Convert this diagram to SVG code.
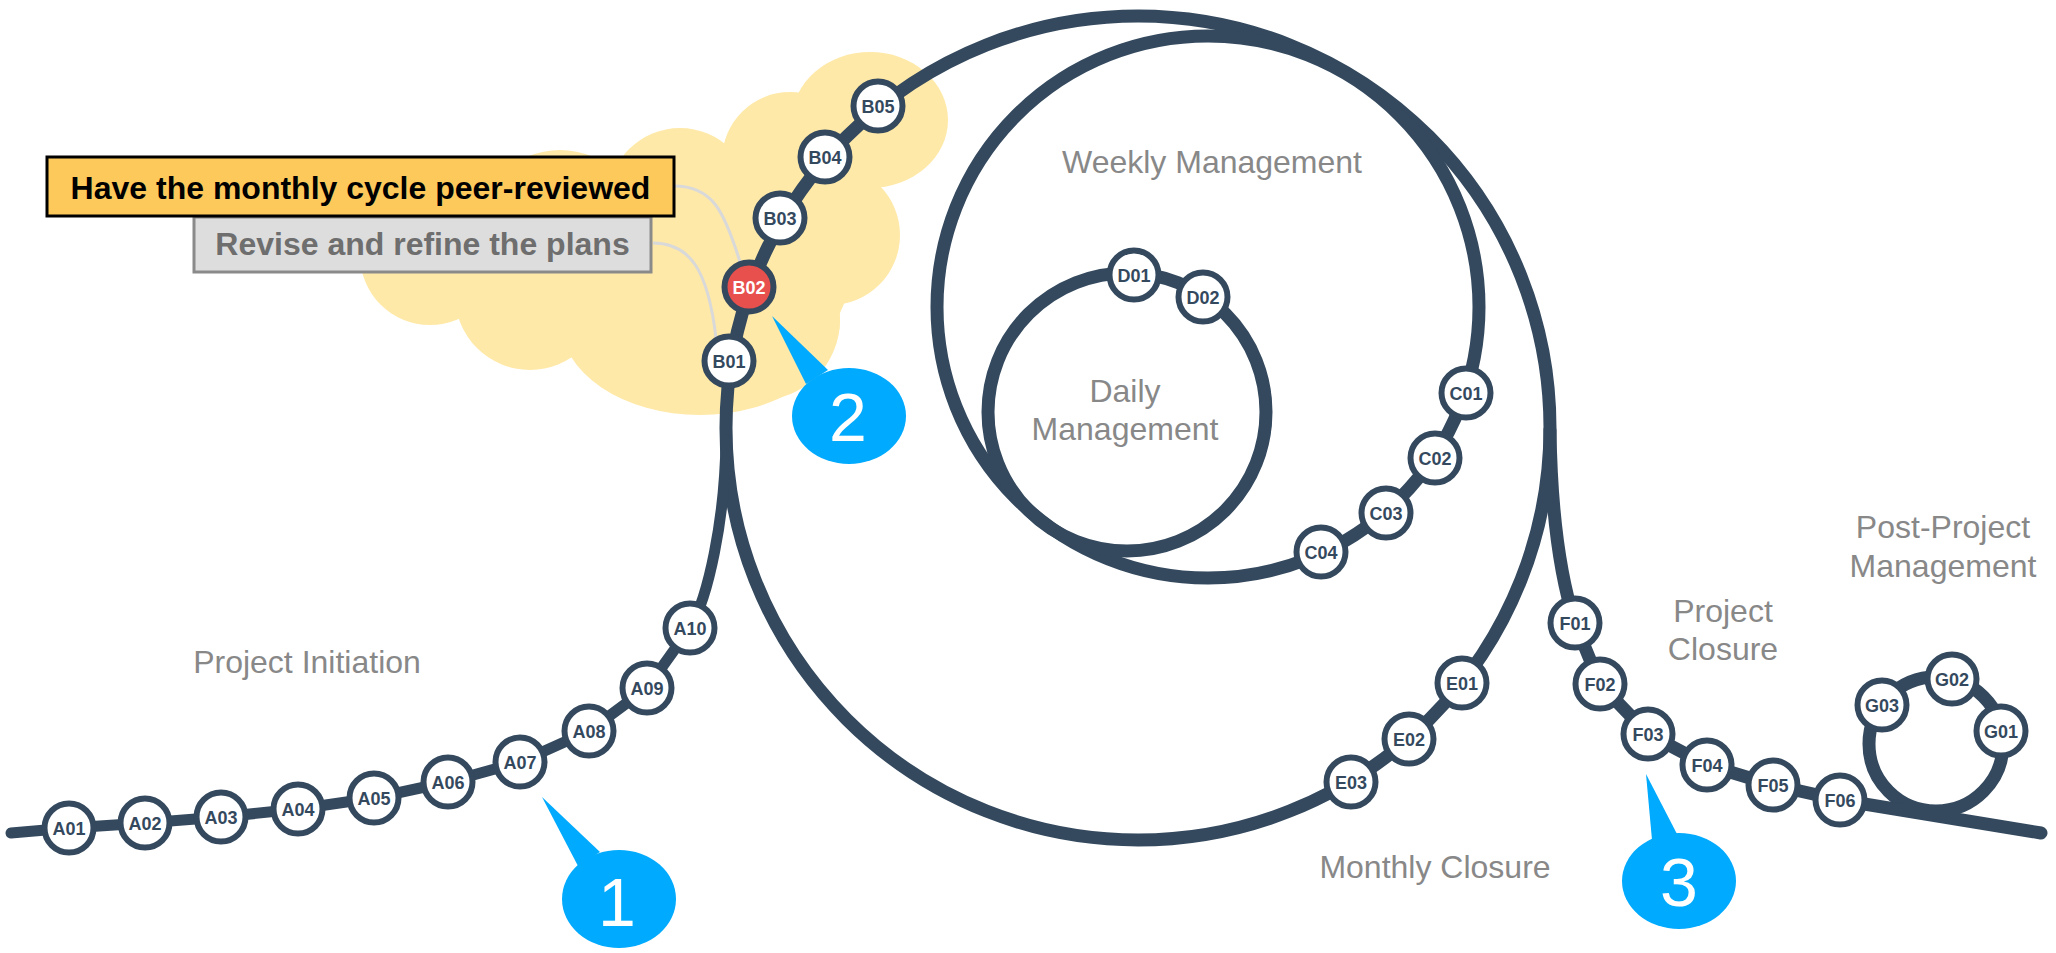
<svg xmlns="http://www.w3.org/2000/svg" width="2056" height="953" viewBox="0 0 2056 953">
<style>
.track{fill:none;stroke:#34495E;stroke-width:13;stroke-linecap:round;stroke-linejoin:round}
.thin{stroke-width:11}
.node circle{fill:#fff;stroke:#34495E;stroke-width:6}
.node text{font-family:"Liberation Sans",Arial,sans-serif;font-weight:bold;font-size:18px;fill:#34495E;text-anchor:middle}
.node.hot circle{fill:#E8504D}
.node.hot text{fill:#fff}
.lbl{font-family:"Liberation Sans",Arial,sans-serif;font-size:32px;fill:#888888;text-anchor:middle}
.cloud{fill:#FFE9A8}
.callout{fill:none;stroke:#D9D9D9;stroke-width:3}
.bubble path,.bubble ellipse{fill:#00AAFF}
.bubble text{font-family:"Liberation Sans",Arial,sans-serif;font-size:68px;fill:#fff;text-anchor:middle}
.box text{font-family:"Liberation Sans",Arial,sans-serif;font-weight:bold;font-size:32px;text-anchor:middle}
</style>

<g id="cloud" class="cloud">
  <circle cx="430" cy="255" r="70"/>
  <circle cx="530" cy="295" r="75"/>
  <ellipse cx="700" cy="320" rx="140" ry="95"/>
  <ellipse cx="700" cy="270" rx="150" ry="120"/>
  <circle cx="830" cy="235" r="70"/>
  <circle cx="760" cy="320" r="80"/>
  <ellipse cx="870" cy="120" rx="78" ry="68"/>
  <circle cx="790" cy="160" r="68"/>
  <circle cx="680" cy="200" r="72"/>
  <circle cx="560" cy="235" r="85"/>
</g>

<g id="connectors">
  <path class="callout" d="M674,186 C712,186 724,210 740,262"/>
  <path class="callout" d="M653,243 C690,243 708,270 716,338"/>
  <circle class="track" cx="1138" cy="428" r="412"/>
  <circle class="track" cx="1208" cy="307" r="271"/>
  <circle class="track" cx="1127" cy="412" r="139"/>
  <circle class="track" cx="1936" cy="744" r="67"/>
  <path class="track thin" d="M11,833 L69,828 L145,823 L221,817 L298,809 L374,798 L448,782 L520,762 L589,731 L647,688 L690,628 C708,598 725,520 726,440"/>
  <path class="track" d="M1550,430 C1551,500 1558,570 1575,623 L1600,684 L1648,734 L1707,765 L1773,785 L1840,800 L2041,833"/>
</g>

<g id="box-revise" class="box">
  <rect x="194" y="217" width="457" height="55" fill="#DDDDDD" stroke="#8A8A8A" stroke-width="3"/>
  <text x="422.5" y="255" fill="#6E6E6E">Revise and refine the plans</text>
</g>
<g id="box-peer" class="box">
  <rect x="47" y="157" width="627" height="59" fill="#FDC95B" stroke="#000" stroke-width="3"/>
  <text x="360.5" y="199" fill="#000">Have the monthly cycle peer-reviewed</text>
</g>

<g id="n-A01" class="node"><circle cx="69" cy="828" r="24.5"/><text x="69" y="834.5">A01</text></g>
<g id="n-A02" class="node"><circle cx="145" cy="823" r="24.5"/><text x="145" y="829.5">A02</text></g>
<g id="n-A03" class="node"><circle cx="221" cy="817" r="24.5"/><text x="221" y="823.5">A03</text></g>
<g id="n-A04" class="node"><circle cx="298" cy="809" r="24.5"/><text x="298" y="815.5">A04</text></g>
<g id="n-A05" class="node"><circle cx="374" cy="798" r="24.5"/><text x="374" y="804.5">A05</text></g>
<g id="n-A06" class="node"><circle cx="448" cy="782" r="24.5"/><text x="448" y="788.5">A06</text></g>
<g id="n-A07" class="node"><circle cx="520" cy="762" r="24.5"/><text x="520" y="768.5">A07</text></g>
<g id="n-A08" class="node"><circle cx="589" cy="731" r="24.5"/><text x="589" y="737.5">A08</text></g>
<g id="n-A09" class="node"><circle cx="647" cy="688" r="24.5"/><text x="647" y="694.5">A09</text></g>
<g id="n-A10" class="node"><circle cx="690" cy="628" r="24.5"/><text x="690" y="634.5">A10</text></g>

<g id="n-B01" class="node"><circle cx="729" cy="361" r="24.5"/><text x="729" y="367.5">B01</text></g>
<g id="n-B02" class="node hot"><circle cx="749" cy="287" r="24.5"/><text x="749" y="293.5">B02</text></g>
<g id="n-B03" class="node"><circle cx="780" cy="218" r="24.5"/><text x="780" y="224.5">B03</text></g>
<g id="n-B04" class="node"><circle cx="825" cy="157" r="24.5"/><text x="825" y="163.5">B04</text></g>
<g id="n-B05" class="node"><circle cx="878" cy="106" r="24.5"/><text x="878" y="112.5">B05</text></g>

<g id="n-C01" class="node"><circle cx="1466" cy="393" r="24.5"/><text x="1466" y="399.5">C01</text></g>
<g id="n-C02" class="node"><circle cx="1435" cy="458" r="24.5"/><text x="1435" y="464.5">C02</text></g>
<g id="n-C03" class="node"><circle cx="1386" cy="513" r="24.5"/><text x="1386" y="519.5">C03</text></g>
<g id="n-C04" class="node"><circle cx="1321" cy="552" r="24.5"/><text x="1321" y="558.5">C04</text></g>

<g id="n-D01" class="node"><circle cx="1134" cy="275" r="24.5"/><text x="1134" y="281.5">D01</text></g>
<g id="n-D02" class="node"><circle cx="1203" cy="297" r="24.5"/><text x="1203" y="303.5">D02</text></g>

<g id="n-E01" class="node"><circle cx="1462" cy="683" r="24.5"/><text x="1462" y="689.5">E01</text></g>
<g id="n-E02" class="node"><circle cx="1409" cy="739" r="24.5"/><text x="1409" y="745.5">E02</text></g>
<g id="n-E03" class="node"><circle cx="1351" cy="782" r="24.5"/><text x="1351" y="788.5">E03</text></g>

<g id="n-F01" class="node"><circle cx="1575" cy="623" r="24.5"/><text x="1575" y="629.5">F01</text></g>
<g id="n-F02" class="node"><circle cx="1600" cy="684" r="24.5"/><text x="1600" y="690.5">F02</text></g>
<g id="n-F03" class="node"><circle cx="1648" cy="734" r="24.5"/><text x="1648" y="740.5">F03</text></g>
<g id="n-F04" class="node"><circle cx="1707" cy="765" r="24.5"/><text x="1707" y="771.5">F04</text></g>
<g id="n-F05" class="node"><circle cx="1773" cy="785" r="24.5"/><text x="1773" y="791.5">F05</text></g>
<g id="n-F06" class="node"><circle cx="1840" cy="800" r="24.5"/><text x="1840" y="806.5">F06</text></g>

<g id="n-G01" class="node"><circle cx="2001" cy="731" r="24.5"/><text x="2001" y="737.5">G01</text></g>
<g id="n-G02" class="node"><circle cx="1952" cy="679" r="24.5"/><text x="1952" y="685.5">G02</text></g>
<g id="n-G03" class="node"><circle cx="1882" cy="705" r="24.5"/><text x="1882" y="711.5">G03</text></g>

<g id="labels">
  <text class="lbl" x="307" y="673">Project Initiation</text>
  <text class="lbl" x="1212" y="173">Weekly Management</text>
  <text class="lbl" x="1125" y="402">Daily</text>
  <text class="lbl" x="1125" y="440">Management</text>
  <text class="lbl" x="1435" y="878">Monthly Closure</text>
  <text class="lbl" x="1723" y="622">Project</text>
  <text class="lbl" x="1723" y="660">Closure</text>
  <text class="lbl" x="1943" y="538">Post-Project</text>
  <text class="lbl" x="1943" y="577">Management</text>
</g>

<g id="bubble-1" class="bubble">
  <path d="M542,797 L578,866 L600,852 Z"/>
  <ellipse cx="619" cy="899" rx="57" ry="49"/>
  <text x="617" y="926">1</text>
</g>
<g id="bubble-2" class="bubble">
  <path d="M772,316 L806,384 L828,370 Z"/>
  <ellipse cx="849" cy="416" rx="57" ry="48"/>
  <text x="848" y="441">2</text>
</g>
<g id="bubble-3" class="bubble">
  <path d="M1646,774 L1652,840 L1677,834 Z"/>
  <ellipse cx="1679" cy="881" rx="57" ry="48"/>
  <text x="1679" y="906">3</text>
</g>
</svg>
